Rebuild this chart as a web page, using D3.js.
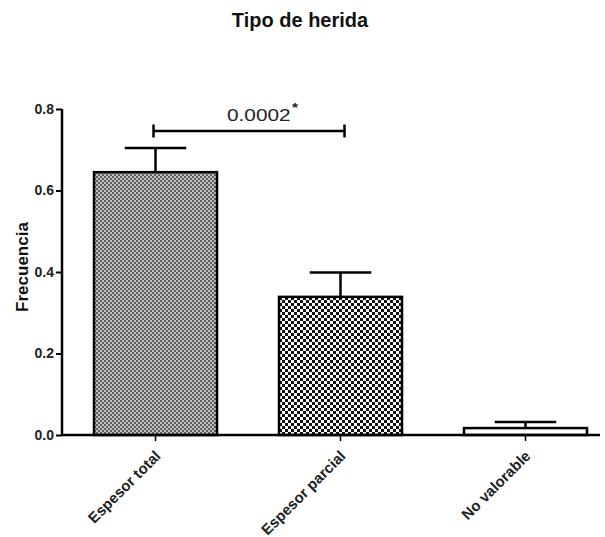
<!DOCTYPE html>
<html>
<head>
<meta charset="utf-8">
<script src="https://cdn.jsdelivr.net/npm/d3@7"></script>
<style>
  body { margin: 0; background: #fff; }
  text { font-family: "Liberation Sans", Arial, sans-serif; }
</style>
</head>
<body>
<script>
var categories = ["Espesor total", "Espesor parcial", "No valorable"];
var values = [0.645, 0.339, 0.017];
var errors = [0.059, 0.060, 0.015];
var yTicks = [0.0, 0.2, 0.4, 0.6, 0.8];
var pText = "0.0002";

var width = 605, height = 537;
var margin = { top: 109, right: 5, bottom: 102, left: 62 };

var svg = d3.select("body").append("svg")
    .attr("width", width)
    .attr("height", height);

var defs = svg.append("defs");

// fine grey checker for the first bar
var p1 = defs.append("pattern")
    .attr("id", "fine")
    .attr("patternUnits", "userSpaceOnUse")
    .attr("width", 4).attr("height", 4);
p1.append("rect").attr("width", 4).attr("height", 4).attr("fill", "#c2c2c2");
p1.append("rect").attr("width", 2).attr("height", 2).attr("fill", "#5e5e5e");
p1.append("rect").attr("x", 2).attr("y", 2).attr("width", 2).attr("height", 2).attr("fill", "#5e5e5e");

// coarse black/white checker for the second bar
var p2 = defs.append("pattern")
    .attr("id", "coarse")
    .attr("patternUnits", "userSpaceOnUse")
    .attr("width", 6).attr("height", 6);
p2.append("rect").attr("width", 6).attr("height", 6).attr("fill", "#ffffff");
p2.append("rect").attr("width", 3).attr("height", 3).attr("fill", "#111");
p2.append("rect").attr("x", 3).attr("y", 3).attr("width", 3).attr("height", 3).attr("fill", "#111");

var fills = ["url(#fine)", "url(#coarse)", "#ffffff"];

var x = d3.scaleBand()
    .domain(categories)
    .range([margin.left, 619])
    .paddingInner(0.335)
    .paddingOuter(0.173);

var y = d3.scaleLinear()
    .domain([0, 0.8])
    .range([height - margin.bottom, margin.top]);

// title
svg.append("text")
    .attr("x", 300)
    .attr("y", 27)
    .attr("text-anchor", "middle")
    .style("font-size", "20px")
    .style("font-weight", "bold")
    .attr("fill", "#111")
    .text("Tipo de herida");

// y label
svg.append("text")
    .attr("transform", "translate(28," + 267 + ") rotate(-90)")
    .attr("text-anchor", "middle")
    .style("font-size", "17px")
    .style("font-weight", "bold")
    .attr("fill", "#111")
    .text("Frecuencia");

// bars
svg.selectAll("rect.bar")
    .data(values)
    .enter()
    .append("rect")
    .attr("class", "bar")
    .attr("x", (d, i) => x(categories[i]))
    .attr("y", d => y(d))
    .attr("width", x.bandwidth())
    .attr("height", d => y(0) - y(d))
    .attr("fill", (d, i) => fills[i])
    .attr("stroke", "#000")
    .attr("stroke-width", 2.5);

// error bars
var eb = svg.selectAll("g.err")
    .data(values)
    .enter()
    .append("g")
    .attr("class", "err")
    .attr("stroke", "#000")
    .attr("stroke-width", 2.5);

eb.append("line")
    .attr("x1", (d, i) => x(categories[i]) + x.bandwidth() / 2)
    .attr("x2", (d, i) => x(categories[i]) + x.bandwidth() / 2)
    .attr("y1", d => y(d))
    .attr("y2", (d, i) => y(d + errors[i]));

eb.append("line")
    .attr("x1", (d, i) => x(categories[i]) + x.bandwidth() / 4)
    .attr("x2", (d, i) => x(categories[i]) + x.bandwidth() * 3 / 4)
    .attr("y1", (d, i) => y(d + errors[i]))
    .attr("y2", (d, i) => y(d + errors[i]));

// y axis
var yAxis = d3.axisLeft(y)
    .tickValues(yTicks)
    .tickFormat(d3.format(".1f"))
    .tickSize(6)
    .tickPadding(2);

var gy = svg.append("g")
    .attr("transform", "translate(" + margin.left + ",0)")
    .call(yAxis);
gy.select(".domain").attr("stroke-width", 2.5).attr("d", "M0," + (y(0) + 1) + "V" + y(0.8));
gy.selectAll(".tick line").attr("stroke-width", 2);
gy.selectAll(".tick text")
    .style("font-size", "14px")
    .style("font-weight", "bold")
    .attr("fill", "#222");

// x axis
var xAxis = d3.axisBottom(x).tickSize(6).tickSizeOuter(0);
var gx = svg.append("g")
    .attr("transform", "translate(0," + y(0) + ")")
    .call(xAxis);
gx.select(".domain").attr("stroke-width", 2.5).attr("d", "M" + margin.left + ",0H600");
gx.selectAll(".tick line").attr("stroke-width", 1.5);
gx.selectAll(".tick text")
    .style("font-size", "15px")
    .style("font-weight", "bold")
    .attr("fill", "#222")
    .attr("text-anchor", "end")
    .attr("dy", null)
    .attr("y", 0)
    .attr("transform", "translate(6,22) rotate(-45)");

// significance bracket
var xa = x(categories[0]) + x.bandwidth() / 2 - 2;
var xb = x(categories[1]) + x.bandwidth() / 2 + 4;
var yb = y(0.746);
var br = svg.append("g").attr("stroke", "#000").attr("stroke-width", 2.5);
br.append("line").attr("x1", xa).attr("x2", xb).attr("y1", yb).attr("y2", yb);
br.append("line").attr("x1", xa).attr("x2", xa).attr("y1", yb - 6.5).attr("y2", yb + 6.5);
br.append("line").attr("x1", xb).attr("x2", xb).attr("y1", yb - 6.5).attr("y2", yb + 6.5);

var pt = svg.append("text")
    .attr("transform", "translate(" + 227 + "," + (yb - 10) + ") scale(1.3,1)")
    .style("font-size", "16px")
    .attr("fill", "#222");
pt.append("tspan").text(pText);
pt.append("tspan").attr("dy", -9).attr("dx", 1).style("font-size", "12px").style("font-weight", "bold").text("*");
</script>
</body>
</html>
